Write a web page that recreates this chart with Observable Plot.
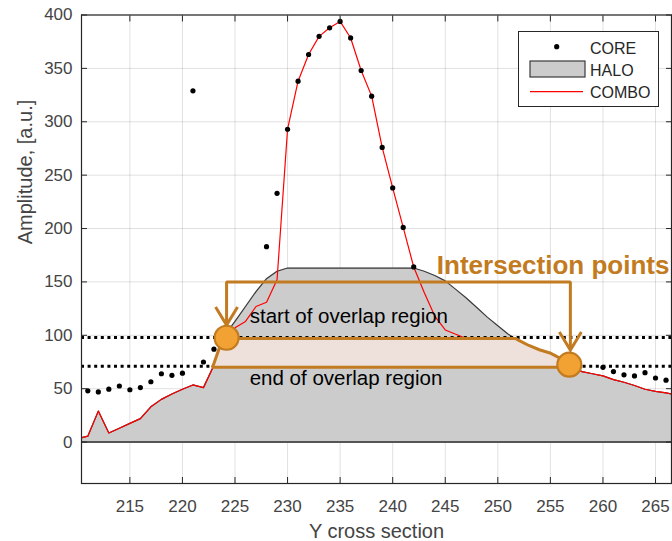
<!DOCTYPE html>
<html><head><meta charset="utf-8">
<script src="https://cdn.jsdelivr.net/npm/d3@7"></script>
<script src="https://cdn.jsdelivr.net/npm/@observablehq/plot@0.6"></script>
<style>body{margin:0;background:#fff}#chart{width:672px;height:541px}</style>
</head><body><div id="chart"></div>
<script>
// ---- data ----
const positions = [210,211,212,213,214,215,216,217,218,219,220,221,222,223,224,225,226,227,228,229,
  230,231,232,233,234,235,236,237,238,239,240,241,242,243,244,245,246,247,248,249,
  250,251,252,253,254,255,256,257,258,259,260,261,262,263,264,265,266,267];
const comboValues = [3,5.5,29,8.5,13,17.5,22,33,40,45,49.5,53.5,51,72,95,107,113,127,131,152,
  293,338,363,380,388,394,378.5,348,324,276,238,201,164,140,118,105,101,97,95,92,
  89,86,83,80,77,75,73,70,66,64,62,58.5,56,53,49.5,47.5,46,44];
const haloValues = [3,5.5,29,8.5,13,17.5,22,33,40,45,49.5,53.5,51,72,100,113,127,141,153,160,
  163,163,163,163,163,163,163,163,163,163,163,163,163,160,156,151,143,135,126,117,
  109,101,95,90,86,83,78,71,66,64,62,58.5,56,53,49.5,47.5,46,44];
const corePositions = [211,212,213,214,215,216,217,218,219,220,221,222,223,
  228,229,230,231,232,233,234,235,236,237,238,239,240,241,242,
  260,261,262,263,264,265,266];
const coreValues = [48,47,49.5,52.5,49,51,56.5,64,62.5,64.5,329,75,87,
  183,233,293,338,363,380,388,394,378.5,348,324,276,238,201,164,
  70,66,63,62,65,60,58];
const xTicks = [215,220,225,230,235,240,245,250,255,260,265];
const yTicks = [0,50,100,150,200,250,300,350,400];
const seriesNames = ["CORE","HALO","COMBO"];

// annotation values
const overlapLevels = [98, 71];          // dotted reference levels
const bandTop = 96.5, bandBottom = 69.5; // shaded overlap region bounds
const intersectX = [224.2, 256.8];
const intersectY = [97.7, 72.5];
const bracketX = [224.2, 224.2, 256.9, 256.9];
const bracketY = [109.6, 150, 150, 86.2];
const arrowTipX = [224.2, 256.9];
const arrowTipY = [109.6, 86.2];
const noteTexts = ["Intersection points", "start of overlap region", "end of overlap region"];
const noteX = [244.2, 226.4, 226.4];
const noteY = [157, 111.2, 53.4];
const xLabel = "Y cross section";
const yLabel = "Amplitude, [a.u.]";

// ---- build tables ----
const series = positions.map((x, i) => ({x, combo: comboValues[i], halo: haloValues[i]}));
const core = corePositions.map((x, i) => ({x, y: coreValues[i]}));

// overlap band: region between bandBottom and min(bandTop, halo) where halo >= bandBottom
const pts = [];
for (let i = 0; i < series.length; i++) {
  const a = series[i];
  pts.push({x: a.x, h: a.halo});
  if (i + 1 < series.length) {
    const b = series[i + 1];
    for (const lv of [bandBottom, bandTop]) {
      if ((a.halo - lv) * (b.halo - lv) < 0) {
        const t = (lv - a.halo) / (b.halo - a.halo);
        pts.push({x: a.x + t * (b.x - a.x), h: lv});
      }
    }
  }
}
pts.sort((p, q) => p.x - q.x);
const band = pts.filter(p => p.h >= bandBottom - 1e-9 && p.x > 220 && p.x < 262)
  .map(p => ({x: p.x, y2: Math.min(bandTop, p.h)}));

const intersections = intersectX.map((x, i) => ({x, y: intersectY[i]}));
const bracket = bracketX.map((x, i) => ({x, y: bracketY[i]}));
const tips = arrowTipX.map((x, i) => ({x, y: arrowTipY[i]}));
const notes = noteTexts.map((t, i) => ({t, x: noteX[i], y: noteY[i]}));

const FONT = '"Liberation Sans", Arial, Helvetica, sans-serif';
const ORANGE = "#c27b20";
const chevron = {draw(ctx) { ctx.moveTo(-11, -18); ctx.lineTo(0, 0); ctx.lineTo(11, -18); }};

const plot = Plot.plot({
  width: 672, height: 541,
  marginLeft: 81, marginRight: 1, marginTop: 14.5, marginBottom: 58,
  style: {fontFamily: FONT, fontSize: "17px", background: "#fff", overflow: "visible"},
  x: {domain: [210.4, 266.52], label: null},
  y: {domain: [-38.8, 400], label: null},
  marks: [
    Plot.gridX(xTicks, {stroke: "#000", strokeOpacity: 0.12}),
    Plot.gridY(yTicks, {stroke: "#000", strokeOpacity: 0.12}),
    Plot.areaY(series, {x: "x", y: "halo", fill: "#cccccc", clip: true}),
    Plot.lineY(series, {x: "x", y: "halo", stroke: "#3a3a3a", strokeWidth: 1.2, clip: true}),
    Plot.ruleY([0], {stroke: "#555", strokeWidth: 2}),
    Plot.lineY(series, {x: "x", y: "combo", stroke: "#ff0000", strokeWidth: 1.2, clip: true}),
    Plot.dot(core, {x: "x", y: "y", r: 2.6, fill: "#000", clip: true}),
    Plot.ruleY(overlapLevels, {stroke: "#000", strokeWidth: 3, strokeDasharray: "3,3.6"}),
    Plot.areaY(band, {x: "x", y1: bandBottom, y2: "y2", fill: "#eee1dc", stroke: ORANGE, strokeWidth: 3, strokeLinejoin: "miter"}),
    Plot.line(bracket, {x: "x", y: "y", stroke: ORANGE, strokeWidth: 3, strokeLinejoin: "miter", strokeLinecap: "butt"}),
    Plot.dot(tips, {x: "x", y: "y", symbol: chevron, r: 4, fill: "none", stroke: ORANGE, strokeWidth: 3, strokeLinejoin: "miter"}),
    Plot.dot(intersections, {x: "x", y: "y", r: 12, fill: "#f2a232", stroke: ORANGE, strokeWidth: 2.2}),
    Plot.text(notes.slice(0, 1), {x: "x", y: "y", text: "t", textAnchor: "start", lineAnchor: "bottom", fontSize: 26, fontWeight: "bold", fill: ORANGE}),
    Plot.text(notes.slice(1), {x: "x", y: "y", text: "t", textAnchor: "start", lineAnchor: "bottom", fontSize: 20.5, fill: "#000"}),
    Plot.axisX({ticks: xTicks, tickSize: 0, tickPadding: 16, label: null, fontSize: 17, color: "#444"}),
    Plot.axisY({ticks: yTicks, tickSize: 0, tickPadding: 9, label: null, fontSize: 17, color: "#444"}),
    Plot.axisX({anchor: "bottom", ticks: xTicks, tickSize: -6, tickFormat: () => "", label: null, color: "#262626"}),
    Plot.axisX({anchor: "top", ticks: xTicks, tickSize: -6, tickFormat: () => "", label: null, color: "#262626"}),
    Plot.axisY({anchor: "left", ticks: yTicks, tickSize: -6, tickFormat: () => "", label: null, color: "#262626"}),
    Plot.axisY({anchor: "right", ticks: yTicks, tickSize: -6, tickFormat: () => "", label: null, color: "#262626"}),
    Plot.frame({stroke: "#262626", strokeWidth: 1.2}),
    Plot.text([xLabel], {frameAnchor: "bottom", dy: 40, lineAnchor: "top", fontSize: 20, fill: "#444"}),
    Plot.text([yLabel], {frameAnchor: "left", dx: -55.5, dy: -5, rotate: -90, lineAnchor: "middle", fontSize: 20, fill: "#444"})
  ]
});
document.getElementById("chart").appendChild(plot);

// legend (inside the axes, top right)
const svg = d3.select(plot.tagName.toLowerCase() === "svg" ? plot : plot.querySelector("svg"));
const lg = svg.append("g").attr("font-family", FONT).attr("font-size", 16).attr("fill", "#262626")
  .attr("text-anchor", "start");
lg.append("rect").attr("x", 518.5).attr("y", 31.5).attr("width", 140).attr("height", 75)
  .attr("fill", "#fff").attr("stroke", "#262626").attr("stroke-width", 1);
lg.append("circle").attr("cx", 556.7).attr("cy", 46.7).attr("r", 2.6).attr("fill", "#000");
lg.append("rect").attr("x", 530).attr("y", 61).attr("width", 55).attr("height", 16)
  .attr("fill", "#cccccc").attr("stroke", "#3a3a3a").attr("stroke-width", 1.2);
lg.append("line").attr("x1", 530).attr("x2", 583).attr("y1", 91.7).attr("y2", 91.7)
  .attr("stroke", "#ff0000").attr("stroke-width", 1.2);
[54, 76, 98].forEach((yy, i) => lg.append("text").attr("x", 590).attr("y", yy)
  .attr("text-anchor", "start").text(seriesNames[i]));
</script>
</body></html>
